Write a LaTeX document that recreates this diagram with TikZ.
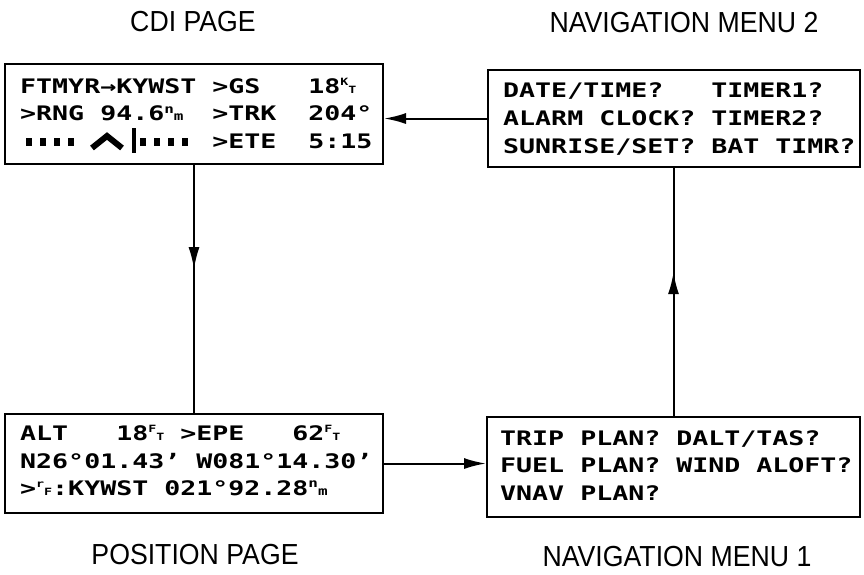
\documentclass[tikz,border=0pt]{standalone}
\usepackage{fontspec}
\usepackage{tikz}
\usetikzlibrary{arrows.meta,positioning,decorations.markings}
\newfontfamily\lcdfont[FakeStretch=1.33]{DejaVu Sans Mono}
\newfontfamily\lblfont[FakeStretch=0.92]{Liberation Sans}
\newlength\lcdw
\newcommand\stk[3][10pt]{\settowidth\lcdw{0}\makebox[\lcdw][l]{\raisebox{7.5pt}{\fontsize{#1}{#1}\selectfont#2}\hfill{\fontsize{#1}{#1}\selectfont#3}}}
\tikzset{
  panel/.style={draw,line width=2pt,inner sep=0pt,anchor=north west},
  lcd/.style={font=\lcdfont\bfseries\fontsize{20pt}{24pt}\selectfont,inner sep=0pt,anchor=base west},
  caption/.style={font=\lblfont\fontsize{29pt}{32pt}\selectfont,inner sep=0pt,anchor=base},
  link/.style={line width=2pt},
  midarrow/.style={postaction={decorate},decoration={markings,mark=at position #1 with {\arrow{Latex[length=22pt,width=11pt]}}}}
}
\begin{document}
\begin{tikzpicture}[x=1pt,y=-1pt,>={Latex[length=22pt,width=11pt]}]
\useasboundingbox (0,0) rectangle (864,574);
% the four pages
\node[panel,minimum width=378pt,minimum height=100pt] (cdi) at (4,63) {};
\node[panel,minimum width=372pt,minimum height=97pt] (navtwo) at (487,69) {};
\node[panel,minimum width=378pt,minimum height=99pt] (posn) at (4,413) {};
\node[panel,minimum width=373pt,minimum height=100pt] (navone) at (486,416) {};
% screen text
\node[lcd] (cdiA) at (20,93) {FTMYR→KYWST~>GS~~~18\stk{K}{T}};
\node[lcd] (cdiB) at (20,120.5) {>RNG~94.6\stk[12pt]{n}{m}~~>TRK~~204°};
\node[lcd] (cdiC) at (20,148) {\hphantom{00000000000}~>ETE~~5:15};
\node[lcd] (navtwoA) at (503,97) {DATE/TIME?~~~TIMER1?};
\node[lcd] (navtwoB) at (503,125) {ALARM~CLOCK?~TIMER2?};
\node[lcd] (navtwoC) at (503,153) {SUNRISE/SET?~BAT~TIMR?};
\node[lcd] (posnA) at (20,440) {ALT~~~18\stk{F}{T}~>EPE~~~62\stk{F}{T}};
\node[lcd] (posnB) at (20,468) {N26°01.43’~W081°14.30’};
\node[lcd] (posnC) at (20,495) {>\stk{r}{F}:KYWST~021°92.28\stk[12pt]{n}{m}};
\node[lcd] (navoneA) at (500,445) {TRIP~PLAN?~DALT/TAS?};
\node[lcd] (navoneB) at (500,472) {FUEL~PLAN?~WIND~ALOFT?};
\node[lcd] (navoneC) at (500,500) {VNAV~PLAN?};
% course deviation bar
\foreach \x in {29,43,57,71,143,157,171,185}
  \fill (\x-3,138) rectangle (\x+3,146);
\draw[line width=6pt,miter limit=10] (92,148) -- (107,136) -- (122,148);
\fill (131.5,128) rectangle (135.5,153);
% captions
\node[caption] (cdilbl) at (193,31) {CDI PAGE};
\node[caption] (navtwolbl) at (684,32) {NAVIGATION MENU 2};
\node[caption] (posnlbl) at (195,564) {POSITION PAGE};
\node[caption] (navonelbl) at (677,566) {NAVIGATION MENU 1};
% connectors
\draw[link,midarrow=0.42] (cdi.south) -- (cdi.south |- posn.north);
\draw[link,->] (posn.east) -- (posn.east -| navone.west);
\draw[link,midarrow=0.58] (navone.north) -- (navone.north |- navtwo.south);
\draw[link,->] (navtwo.west) -- (navtwo.west -| cdi.east);
\end{tikzpicture}
\end{document}
